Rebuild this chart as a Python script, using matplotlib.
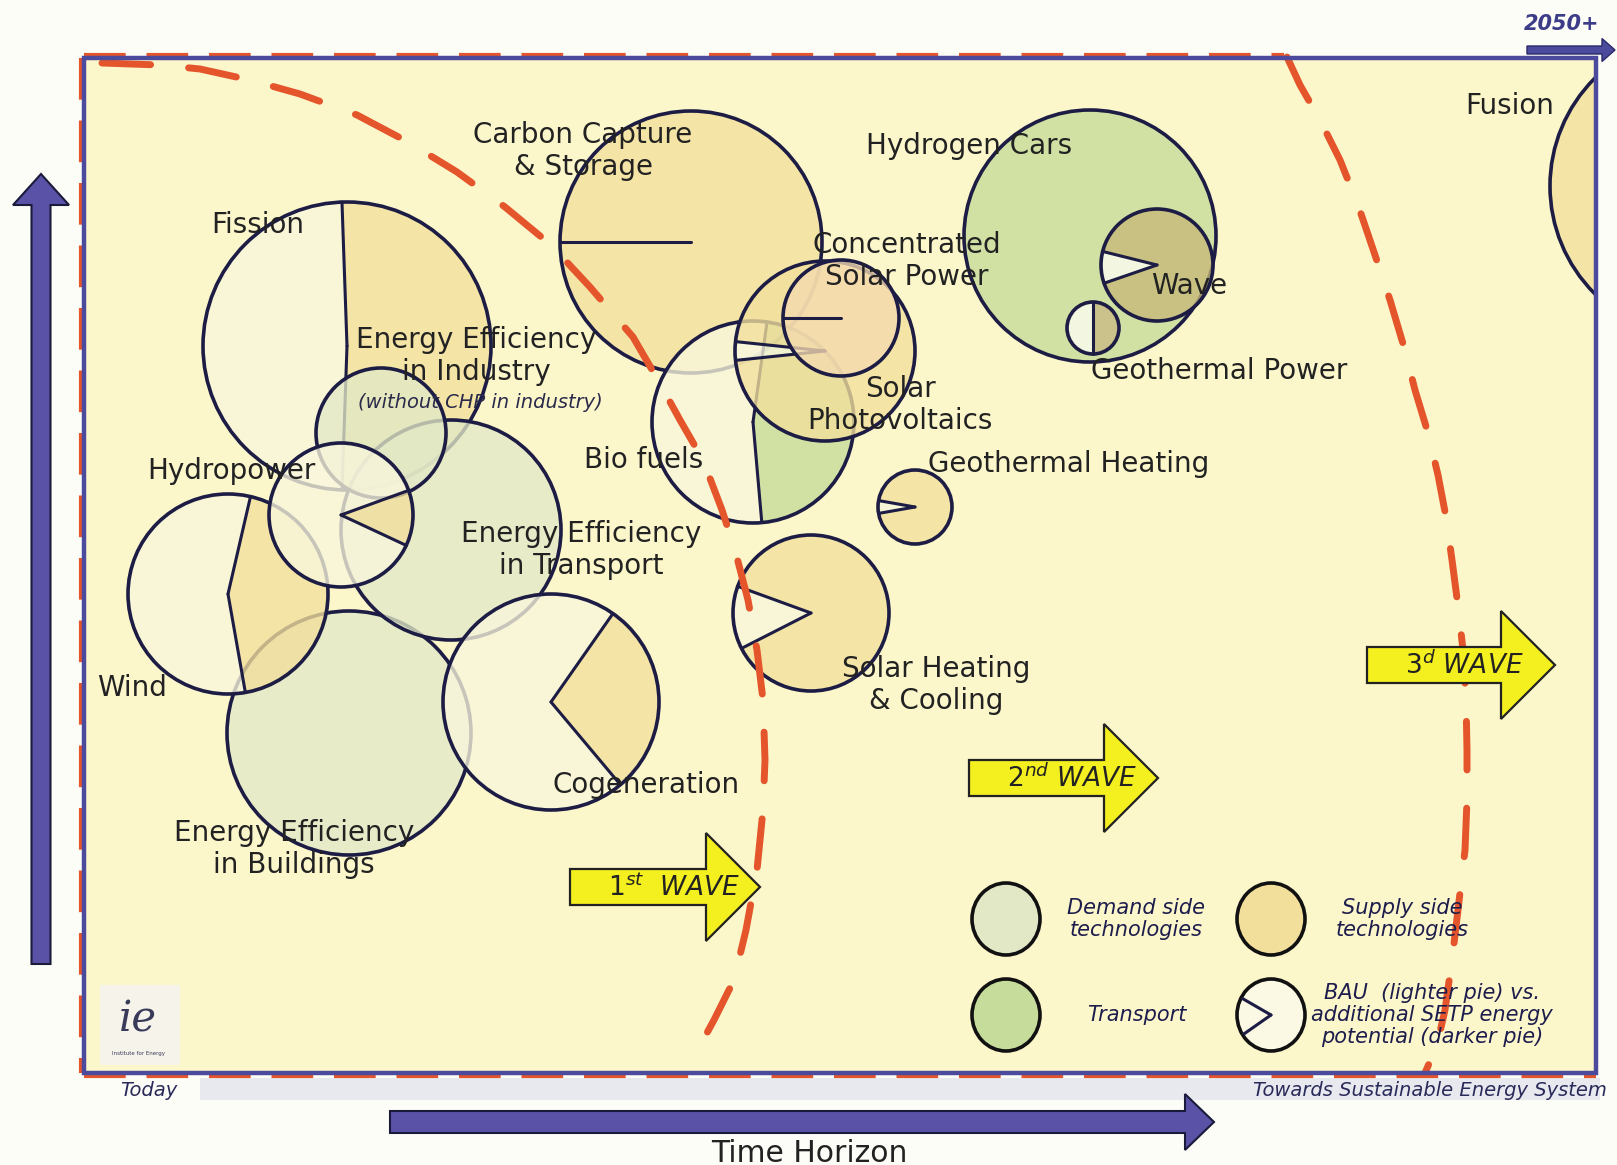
import matplotlib
matplotlib.use("Agg")
import matplotlib.pyplot as plt
from matplotlib.patches import Wedge, Circle, Ellipse, Rectangle, FancyArrow
import numpy as np

# ---- chart data: positions in picture pixels, y counted from the top ----
# technologies, drawn bottom-most first
tech = ["Fission", "CCS", "EE Buildings", "EE Transport", "Wind", "EE Industry",
        "Hydropower", "Cogeneration", "Biofuels", "Solar PV", "CSP",
        "Solar Heating", "Geothermal Heating", "Hydrogen Cars", "Wave",
        "Geothermal Power", "Fusion"]
bub_x = [347, 691, 349, 451, 228, 381, 341, 551, 753, 825, 841, 811, 915, 1090, 1157, 1093, 1702]
bub_y = [346, 242, 733, 530, 594, 433, 515, 702, 422, 351, 318, 613, 507, 236, 265, 328, 186]
bub_r = [144, 131, 122, 110, 100, 65, 72, 108, 101, 90, 58, 78, 37, 126, 56, 26, 152]
bub_kind = ["supply", "supply", "demand", "demand", "supply", "demand", "supply",
            "supply", "transport", "supply", "csp", "supply", "supply",
            "transport", "wave", "geo", "supply"]
# lighter (BAU) slice, angles in degrees counter-clockwise from 3 o'clock
bau_from = [92, 180, None, None, 77, None, 20, 55, 82, 174, 180, 160, 170, None, 166, 90, None]
bau_to = [268, 180, None, None, 280, None, 335, 310, 275, 186, 180, 207, 190, None, 199, 270, None]

# labels
lab_text = ["Carbon Capture\n& Storage", "Fission", "Hydrogen Cars", "Fusion",
            "Concentrated\nSolar Power", "Wave", "Geothermal Power",
            "Energy Efficiency\nin Industry", "Solar\nPhotovoltaics", "Bio fuels",
            "Hydropower", "Geothermal Heating", "Energy Efficiency\nin Transport",
            "Wind", "Solar Heating\n& Cooling", "Cogeneration",
            "Energy Efficiency\nin Buildings"]
lab_x = [583, 258, 969, 1510, 907, 1189, 1219, 476, 900, 644, 231, 1069, 581, 132, 936, 646, 294]
lab_y = [151, 225, 146, 106, 261, 286, 371, 356, 405, 460, 471, 464, 550, 688, 685, 785, 849]

# wave boundaries (red dashed)
wave1_x = [102, 160, 200, 250, 300, 357, 408, 457, 505, 551, 590, 633, 658, 680, 703,
           722, 735, 748, 757, 763, 765, 763, 757, 746, 734, 714, 690]
wave1_y = [63, 65, 69, 80, 94, 115, 142, 172, 207, 245, 287, 337, 380, 420, 460,
           510, 550, 600, 650, 700, 760, 810, 870, 930, 980, 1020, 1064]
wave2_x = [1287, 1300, 1320, 1340, 1358, 1375, 1390, 1404, 1415, 1428, 1438, 1446,
           1452, 1458, 1463, 1466, 1467, 1467, 1465, 1458, 1452, 1445, 1437, 1425]
wave2_y = [57, 85, 120, 160, 205, 255, 300, 347, 390, 433, 475, 517,
           560, 606, 650, 700, 750, 800, 850, 910, 960, 1010, 1045, 1073]

# wave arrows
wave_lab = [r"$\mathit{1^{st}}$  WAVE", r"$\mathit{2^{nd}}$ WAVE", r"$\mathit{3^{d}}$ WAVE"]
wave_x0 = [570, 969, 1367]
wave_tip = [760, 1158, 1555]
wave_y = [887, 778, 665]

# legend
leg_x = [1006, 1271, 1006, 1271]
leg_y = [919, 919, 1015, 1015]
leg_kind = ["demand", "supply", "transport", "pie"]
leg_text = ["Demand side\ntechnologies", "Supply side\ntechnologies", "Transport",
            "BAU  (lighter pie) vs.\nadditional SETP energy\npotential (darker pie)"]
leg_tx = [1136, 1402, 1137, 1432]

colors = {"supply": "#f2df9c", "demand": "#e2e8c6", "transport": "#c6dc9a",
          "csp": "#f5dab0", "wave": "#c7b878", "geo": "#c9b985"}
light = {"supply": "#f9f6dc", "demand": "#e2e8c6", "transport": "#f9f6dc",
         "csp": "#f9f0d8", "wave": "#fdfcf2", "geo": "#fdfcf2"}

NAVY = "#1c1c44"
FRAME = "#4b4a9c"
RED = "#e4552b"
FONT = ["DejaVu Sans"]

fig = plt.figure(figsize=(16.17, 11.65), dpi=100)
fig.patch.set_facecolor("#fdfdf8")
ax = fig.add_axes([0, 0, 1, 1])
ax.set_xlim(0, 1617)
ax.set_ylim(1165, 0)
ax.axis("off")

# plot area
fx0, fy0, fx1, fy1 = 84, 58, 1596, 1073
area = Rectangle((fx0, fy0), fx1 - fx0, fy1 - fy0, fc="#fcf6cb", ec="none", zorder=0)
ax.add_patch(area)
ax.add_patch(Rectangle((200, 1078), 1400, 22, fc="#e8e9ef", ec="none", zorder=0))


def wedge(x, y, r, a1, a2, **kw):
    # y axis is inverted, so screen angles flip sign
    return Wedge((x, y), r, -a2, -a1, **kw)


def radius(x, y, r, a, z):
    t = np.radians(a)
    ax.plot([x, x + r * np.cos(t)], [y, y - r * np.sin(t)], color=NAVY, lw=2.2,
            zorder=z, solid_capstyle="round")


for i in range(len(tech)):
    x, y, r, k = bub_x[i], bub_y[i], bub_r[i], bub_kind[i]
    z = 2 + i * 0.1
    clip = tech[i] == "Fusion"
    if bau_from[i] is None or bau_from[i] == bau_to[i]:
        parts = [Circle((x, y), r, fc=colors[k], ec="none", alpha=0.78, zorder=z)]
    else:
        parts = [wedge(x, y, r, bau_from[i], bau_to[i], fc=light[k], ec="none",
                       alpha=0.78, zorder=z),
                 wedge(x, y, r, bau_to[i], bau_from[i] + 360, fc=colors[k], ec="none",
                       alpha=0.78, zorder=z)]
    parts.append(Circle((x, y), r, fill=False, ec=NAVY, lw=2.6, zorder=z + 0.05))
    for p in parts:
        ax.add_patch(p)
        if clip:
            p.set_clip_path(area)
    if bau_from[i] is not None:
        radius(x, y, r, bau_from[i], z + 0.05)
        if bau_to[i] != bau_from[i]:
            radius(x, y, r, bau_to[i], z + 0.05)

# wave boundaries
for xs, ys in [(wave1_x, wave1_y), (wave2_x, wave2_y)]:
    ax.plot(xs, ys, color=RED, lw=5, ls=(0, (7, 5.5)), zorder=6,
            solid_capstyle="round", dash_capstyle="round")

# frame
ax.plot([fx0 - 3, fx0 - 3], [fy0, fy1], color=RED, lw=3, ls=(0, (10, 5)), zorder=7)
ax.plot([fx0, 1284], [fy0 - 3, fy0 - 3], color=RED, lw=3, ls=(0, (10, 5)), zorder=7)
ax.plot([fx0, fx1], [fy1 + 3, fy1 + 3], color=RED, lw=3, ls=(0, (10, 5)), zorder=7)
ax.add_patch(Rectangle((fx0, fy0), fx1 - fx0, fy1 - fy0, fill=False, ec=FRAME,
                       lw=3.2, zorder=7.5))

# labels
for t, x, y in zip(lab_text, lab_x, lab_y):
    ax.text(x, y, t, ha="center", va="center", fontsize=20, family=FONT,
            color="#222222", linespacing=1.2, zorder=8)
ax.text(480, 402, "(without CHP in industry)", ha="center", va="center", fontsize=14,
        style="italic", family=FONT, color="#2a2a4a", zorder=8)

# wave arrows
for t, x0, xt, y in zip(wave_lab, wave_x0, wave_tip, wave_y):
    ax.add_patch(FancyArrow(x0, y, xt - x0, 0, width=36, head_width=108, head_length=54,
                            length_includes_head=True, fc="#f4ef1f", ec="#222222",
                            lw=1.6, zorder=8))
    ax.text(x0 + 38, y + 1, t, ha="left", va="center", fontsize=19, style="italic",
            family=FONT, color="#222222", zorder=9)

# legend
for x, y, k, t, tx in zip(leg_x, leg_y, leg_kind, leg_text, leg_tx):
    fc = "#fbf8e4" if k == "pie" else colors[k]
    ax.add_patch(Ellipse((x, y), 68, 72, fc=fc, ec="#111111", lw=2.6, zorder=8))
    if k == "pie":
        radius(x, y, 33, 150, 8.1)
        radius(x, y, 33, 215, 8.1)
    ax.text(tx, y, t, ha="center", va="center", fontsize=15, style="italic",
            family=FONT, color="#1d1d4d", linespacing=1.15, zorder=9)

# axes arrows
ax.add_patch(FancyArrow(41, 964, 0, 174 - 964, width=19, head_width=56, head_length=31,
                        length_includes_head=True, fc="#5a52a6", ec="#1a1a3a", lw=1.5,
                        zorder=8))
ax.add_patch(FancyArrow(390, 1122, 1214 - 390, 0, width=22, head_width=56, head_length=29,
                        length_includes_head=True, fc="#5a52a6", ec="#1a1a3a", lw=1.5,
                        zorder=8))
ax.add_patch(FancyArrow(1527, 50, 88, 0, width=8, head_width=23, head_length=13,
                        length_includes_head=True, fc=FRAME, ec="#2a2a6a", lw=1,
                        zorder=8))
ax.text(809, 1162, "Time Horizon", ha="center", va="baseline", fontsize=21.5,
        family=FONT, color="#222222", zorder=9)
ax.text(1562, 24, "2050+", ha="center", va="center", fontsize=15, style="italic",
        weight="bold", family=FONT, color="#3c3c88")
ax.text(149, 1091, "Today", ha="center", va="center", fontsize=14, style="italic",
        family=FONT, color="#2a2a5a")
ax.text(1607, 1091, "Towards Sustainable Energy System", ha="right", va="center",
        fontsize=14, style="italic", family=FONT, color="#2a2a5a")

# logo
ax.add_patch(Rectangle((100, 985), 80, 80, fc="#f6f4ea", ec="none", zorder=7.6))
ax.text(138, 1020, "ie", ha="center", va="center", fontsize=30, style="italic",
        family=["DejaVu Serif"], color="#3a3a5a", zorder=8)
ax.text(138, 1054, "Institute for Energy", ha="center", va="center", fontsize=4,
        family=FONT, color="#3a3a5a", zorder=8)

fig.savefig("out.png", dpi=100, facecolor=fig.get_facecolor())
